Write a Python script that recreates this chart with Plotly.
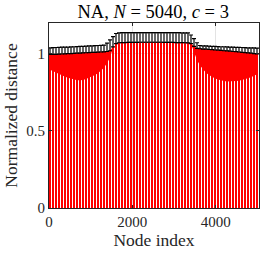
import plotly.graph_objects as go

# Sampled node positions (one bar per sampled node)
node_index = [24, 96, 168, 240, 312, 384, 456, 528, 600, 672, 744, 816,
              888, 960, 1032, 1104, 1176, 1248, 1320, 1392, 1464, 1536, 1608, 1680,
              1752, 1824, 1896, 1968, 2040, 2112, 2184, 2256, 2328, 2400, 2472, 2544,
              2616, 2688, 2760, 2832, 2904, 2976, 3048, 3120, 3192, 3264, 3336, 3408,
              3480, 3552, 3624, 3696, 3768, 3840, 3912, 3984, 4056, 4128, 4200, 4272,
              4344, 4416, 4488, 4560, 4632, 4704, 4776, 4848, 4920, 4992]

# Normalized distance (bar height)
distance = [0.996, 0.997, 0.997, 0.998, 0.999, 1.000, 1.001, 1.002, 1.003, 1.004, 1.005, 1.006,
            1.007, 1.008, 1.009, 1.010, 1.011, 1.012, 1.013, 1.015, 1.020, 1.045, 1.066, 1.072,
            1.073, 1.073, 1.074, 1.074, 1.074, 1.074, 1.075, 1.075, 1.075, 1.075, 1.075, 1.075,
            1.075, 1.075, 1.074, 1.074, 1.074, 1.074, 1.073, 1.073, 1.073, 1.072, 1.071, 1.066,
            1.048, 1.035, 1.033, 1.031, 1.030, 1.028, 1.027, 1.025, 1.024, 1.022, 1.020, 1.019,
            1.017, 1.015, 1.014, 1.012, 1.010, 1.008, 1.006, 1.004, 1.002, 1.000]

# Upper end of the error bars
err_top = [1.039, 1.040, 1.041, 1.042, 1.043, 1.044, 1.044, 1.045, 1.046, 1.047, 1.048, 1.049,
           1.050, 1.051, 1.052, 1.053, 1.054, 1.055, 1.056, 1.070, 1.090, 1.112, 1.132, 1.136,
           1.137, 1.137, 1.138, 1.138, 1.138, 1.138, 1.138, 1.138, 1.138, 1.138, 1.138, 1.138,
           1.138, 1.138, 1.138, 1.137, 1.137, 1.137, 1.137, 1.137, 1.136, 1.136, 1.136, 1.122,
           1.098, 1.072, 1.054, 1.052, 1.051, 1.050, 1.049, 1.048, 1.047, 1.046, 1.046, 1.045,
           1.044, 1.043, 1.042, 1.042, 1.041, 1.040, 1.039, 1.038, 1.038, 1.037]

# Lower edge of the densely overlapping (solid) bar region, left and right groups
left_nodes = [24, 96, 168, 240, 312, 384, 456, 528, 600, 672, 744, 816,
              888, 960, 1032, 1104, 1176, 1248, 1320, 1392, 1464, 1536]
left_low = [0.896, 0.886, 0.876, 0.867, 0.858, 0.851, 0.845, 0.838, 0.832, 0.829, 0.828, 0.830,
            0.837, 0.844, 0.853, 0.862, 0.874, 0.890, 0.910, 0.940, 0.975, 1.045]
right_nodes = [3408, 3480, 3552, 3624, 3696, 3768, 3840, 3912, 3984, 4056, 4128, 4200,
               4272, 4344, 4416, 4488, 4560, 4632, 4704, 4776, 4848, 4920, 4992]
right_low = [1.066, 1.010, 0.960, 0.925, 0.898, 0.877, 0.862, 0.850, 0.840, 0.833, 0.827, 0.823,
             0.821, 0.821, 0.822, 0.824, 0.826, 0.830, 0.835, 0.841, 0.848, 0.857, 0.868]

x_ticks = [0, 2000, 4000]
y_ticks = [0, 0.5, 1]

top_lookup = dict(zip(node_index, distance))
err_plus = [e - d for e, d in zip(err_top, distance)]

RED = "#ff0000"
FONT = "Liberation Serif"
AX = "#262626"

fig = go.Figure()
fig.add_trace(go.Bar(x=node_index, y=distance, width=48, marker=dict(color=RED, line_width=0),
                     showlegend=False))
for xs, lows in [(left_nodes, left_low), (right_nodes, right_low)]:
    fig.add_trace(go.Scatter(x=xs, y=lows, mode="lines", line=dict(width=0, color=RED),
                             showlegend=False, hoverinfo="skip"))
    fig.add_trace(go.Scatter(x=xs, y=[top_lookup[v] for v in xs], mode="lines",
                             line=dict(width=0, color=RED), fill="tonexty", fillcolor=RED,
                             showlegend=False, hoverinfo="skip"))
fig.add_trace(go.Scatter(x=node_index, y=distance, mode="markers",
                         marker=dict(size=1, color="rgba(0,0,0,0)"),
                         error_y=dict(type="data", symmetric=False, array=err_plus,
                                      arrayminus=[0] * len(err_plus), color="black",
                                      thickness=1.2, width=2),
                         showlegend=False))

fig.update_layout(
    template="none",
    width=266, height=253,
    margin=dict(l=49, r=7, t=23, b=44.5, pad=0),
    paper_bgcolor="white", plot_bgcolor="white",
    font=dict(family=FONT, color=AX, size=15),
    title=dict(text="NA, <i>N</i> = 5040, <i>c</i> = 3", x=0.576, xanchor="center",
               y=0.955, yanchor="middle", yref="container",
               font=dict(family=FONT, size=18.5, color="black")),
    bargap=0.3,
    hovermode=False,
    xaxis=dict(range=[0, 5040], tickvals=x_ticks, ticktext=[str(v) for v in x_ticks],
               automargin=False,
               showline=True, linecolor=AX, linewidth=1, mirror="ticks",
               ticks="inside", ticklen=3, tickcolor=AX,
               showgrid=True, gridcolor="#e3e3e3", gridwidth=1, zeroline=False,
               title=dict(text="Node index", font=dict(size=17.5, color=AX), standoff=2),
               tickfont=dict(size=15, color=AX)),
    yaxis=dict(range=[0, 1.2], tickvals=y_ticks, ticktext=["0", "0.5", "1"],
               automargin=False,
               showline=True, linecolor=AX, linewidth=1, mirror="ticks",
               ticks="inside", ticklen=3, tickcolor=AX,
               showgrid=True, gridcolor="#e3e3e3", gridwidth=1, zeroline=False,
               title=dict(text="Normalized distance", font=dict(size=17.5, color=AX), standoff=4),
               tickfont=dict(size=15, color=AX)),
)

post = "document.body.style.margin='0px';"
fig.write_html("out.html", post_script=post, config={"displayModeBar": False})
